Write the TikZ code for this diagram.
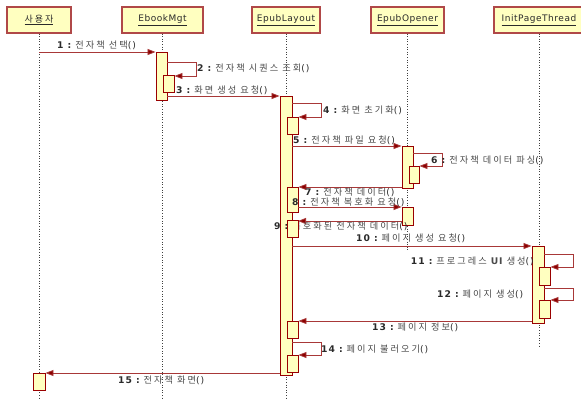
\documentclass[tikz,border=0pt]{standalone}
\usepackage{fontspec}
\setmainfont{DejaVu Sans}
\newfontfamily\kor[LetterSpace=22]{Noto Sans CJK KR}
\newfontfamily\numf[LetterSpace=10]{DejaVu Sans}
\newfontfamily\hdrf[LetterSpace=6]{DejaVu Sans}
\usetikzlibrary{arrows.meta}

\definecolor{boxfill}{HTML}{FFFFC0}
\definecolor{actline}{HTML}{990000}
\definecolor{hdrline}{HTML}{B04848}
\definecolor{msgline}{HTML}{A83838}
\definecolor{tipcol}{HTML}{8B0000}
\definecolor{txt}{HTML}{2A2A2A}
\definecolor{kortxt}{HTML}{4A4A4A}

\tikzset{
  head/.style={draw=hdrline, line width=1.2pt, fill=boxfill, minimum height=26pt,
    inner sep=0pt, text=txt, font=\hdrf\fontsize{9}{10}\selectfont},
  act/.style={draw=actline, line width=0.9pt, fill=boxfill, inner sep=0pt},
  life/.style={draw=black!75, dotted, line width=0.6pt},
  msg/.style={draw=msgline, line width=0.8pt,
    -{Triangle[length=8pt,width=6pt,fill=tipcol]}},
  lbl/.style={anchor=west, inner sep=0pt, text=txt, font=\fontsize{9.2}{10}\selectfont},
}
\newcommand\lb[2]{{\numf\bfseries #1 :} {\kor\color{kortxt}#2}{\numf()}}
\newcommand\actbox[5]{\node[act, minimum width={(#4-#2)*1pt}, minimum height={(#5-#3)*1pt}]
  (#1) at ({(#2+#4)/2},{(#3+#5)/2}) {};}

\begin{document}
\begin{tikzpicture}[x=1pt,y=-1pt]
\useasboundingbox (0,0) rectangle (581,399);

% heads
\node[head, minimum width=64pt] (hU) at (39,20) {\underline{\kor 사용자}};
\node[head, minimum width=81pt] (hE) at (162.5,20) {\underline{EbookMgt}};
\node[head, minimum width=68pt] (hL) at (286,20) {\underline{EpubLayout}};
\node[head, minimum width=73pt] (hO) at (407.5,20) {\underline{EpubOpener}};
\node[head, minimum width=90pt] (hT) at (539,20) {\underline{InitPageThread}};

% lifelines
\coordinate (eU) at (hU |- 0,399);
\coordinate (eE) at (hE |- 0,399);
\coordinate (eL) at (hL |- 0,399);
\coordinate (eO) at (hO |- 0,250);
\coordinate (eT) at (hT |- 0,348);
\draw[life] (hU.south) -- (eU);
\draw[life] (hE.south) -- (eE);
\draw[life] (hL.south) -- (eL);
\draw[life] (hO.south) -- (eO);
\draw[life] (hT.south) -- (eT);

% activations
\actbox{aE}{156}{52}{167}{100}
\actbox{aE2}{163}{75}{174}{92}
\actbox{aL}{280}{96}{292}{375}
\actbox{aL4}{287}{117}{298}{134}
\actbox{aO}{402}{146}{413}{188}
\actbox{aO6}{409}{166}{419}{183}
\actbox{aL7}{287}{187}{298}{212}
\actbox{aO8}{402}{207}{413}{225}
\actbox{aT}{532}{246}{544}{323}
\actbox{aT11}{539}{267}{550}{285}
\actbox{aT12}{539}{300}{550}{318}
\actbox{aL13}{287}{321}{298}{338}
\actbox{aL14}{287}{355}{298}{372}
\actbox{aU}{33}{373}{45}{390}

% messages
\draw[msg] (hU |- 0,52) -- (aE.west |- 0,52);
\draw[msg] (aE.east |- 0,62) -- ++(29,0) |- (aE2.east |- 0,76);
\draw[msg] (aE.east |- 0,96) -- (aL.west |- 0,96);
\draw[msg] (aL.east |- 0,103) -- ++(29,0) |- (aL4.east |- 0,117);
\draw[msg] (aL.east |- 0,146) -- (aO.west |- 0,146);
\draw[msg] (aO.east |- 0,153) -- ++(29,0) |- (aO6.east |- 0,166);
\draw[msg] (aO.west |- 0,187) -- (aL7.east |- 0,187);
\draw[msg] (aL7.east |- 0,207) -- (aO8.west |- 0,207);
\draw[msg] (aO8.west |- 0,221) -- (298,221) coordinate (m9);
\draw[msg] (aL.east |- 0,246) -- (aT.west |- 0,246);
\draw[msg] (aT.east |- 0,254) -- ++(29,0) |- (aT11.east |- 0,267);
\draw[msg] (aT.east |- 0,288) -- ++(29,0) |- (aT12.east |- 0,300);
\draw[msg] (aT.west |- 0,321) -- (aL13.east |- 0,321);
\draw[msg] (aL.east |- 0,342) -- ++(29,0) |- (aL14.east |- 0,355);
\draw[msg] (aL.west |- 0,373) -- (aU.east |- 0,373);

% labels
\node[lbl] (l1) at (57,45) {\lb{1}{전자책 선택}};
\node[lbl] (l2) at (197,68) {\lb{2}{전자책 시퀀스 조회}};
\node[lbl] (l3) at (176,90) {\lb{3}{화면 생성 요청}};
\node[lbl] (l4) at (323,110) {\lb{4}{화면 초기화}};
\node[lbl] (l5) at (293,140) {\lb{5}{전자책 파일 요청}};
\node[lbl] (l6) at (431,160) {\lb{6}{전자책 데이터 파싱}};
\node[lbl] (l7) at (305,192) {\lb{7}{전자책 데이터}};
\node[lbl] (l8) at (292,202) {\lb{8}{전자책 복호화 요청}};
\node[lbl] (l9) at (274,226) {\lb{9}{복호화된 전자책 데이터}};
\node[lbl] (l10) at (356,238) {\lb{10}{페이지 생성 요청}};
\node[lbl,anchor=east] (l11) at (534,261) {\lb{11}{프로그레스 {\numf\bfseries UI} 생성}};
\node[lbl] (l12) at (437,294) {\lb{12}{페이지 생성}};
\node[lbl] (l13) at (372,327) {\lb{13}{페이지 정보}};
\node[lbl] (l14) at (321,349) {\lb{14}{페이지 불러오기}};
\node[lbl] (l15) at (118,380) {\lb{15}{전자책 화면}};

% box drawn over label 9
\actbox{aL9}{287}{220}{298}{237}
\end{tikzpicture}
\end{document}
